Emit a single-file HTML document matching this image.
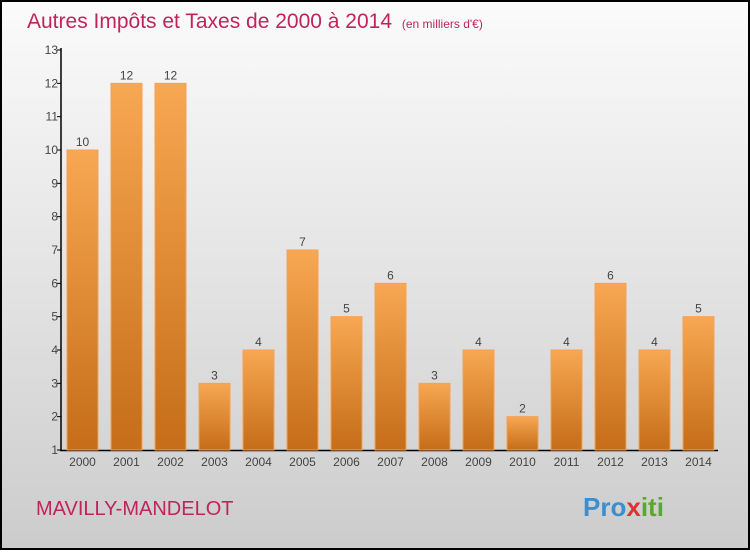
<!DOCTYPE html>
<html><head><meta charset="utf-8"><style>
body{margin:0;width:750px;height:550px;overflow:hidden;font-family:"Liberation Sans",sans-serif}
</style></head><body>
<svg id="c" width="750" height="550" xmlns="http://www.w3.org/2000/svg">
<defs>
<linearGradient id="bg" x1="0" y1="0" x2="0" y2="1"><stop offset="0" stop-color="#fbfbfb"/><stop offset="1" stop-color="#cccccc"/></linearGradient>
<linearGradient id="bar" x1="0" y1="0" x2="0" y2="1"><stop offset="0" stop-color="#f8a752"/><stop offset="1" stop-color="#c56d18"/></linearGradient>
</defs>
<rect x="1" y="1" width="748" height="548" fill="url(#bg)" stroke="#000" stroke-width="2"/>
<text x="27" y="28" font-size="21" fill="#c0245c">Autres Impôts et Taxes de 2000 à 2014 <tspan font-size="12" dx="4">(en milliers d'€)</tspan></text>
<text x="36" y="515" font-size="20" fill="#c0245c">MAVILLY-MANDELOT</text>
<text x="583" y="516" font-size="26" font-weight="bold" fill="#3a8fd0">Pro<tspan fill="#e03030">x</tspan><tspan fill="#5aaa2a">iti</tspan></text>
<g id="axes"></g><g id="bars"></g>
</svg>
<script>
const years=["2000","2001","2002","2003","2004","2005","2006","2007","2008","2009","2010","2011","2012","2013","2014"];
const values=[10,12,12,3,4,7,5,6,3,4,2,4,6,4,5];
const yTicks=[1,2,3,4,5,6,7,8,9,10,11,12,13];
const NS="http://www.w3.org/2000/svg";
function y(v){return 450-(v-1)*(400/12);}
function x(i){return 67+i*44;}
const ax=document.getElementById('axes'),bg=document.getElementById('bars');
function mk(t,a,p){const e=document.createElementNS(NS,t);for(const k in a)e.setAttribute(k,a[k]);p.appendChild(e);return e;}
let l=mk('line',{x1:61,y1:48,x2:61,y2:451,stroke:'#000','stroke-width':1.5},ax);


l=mk('line',{x1:60,y1:450.5,x2:718,y2:450.5,stroke:'#000','stroke-width':1.5},ax);


yTicks.forEach(v=>{
 const t=mk('line',{x1:57,x2:61,y1:y(v),y2:y(v),stroke:'#000'},ax);
 
 
 const tx=mk('text',{x:58,y:y(v)+4,'font-size':12,fill:'#444','text-anchor':'end'},ax);
 tx.textContent=v;
 
 
});
years.forEach((yr,i)=>{
 const v=values[i];
 const r=mk('rect',{x:x(i),y:y(v),width:31,height:450-y(v),fill:'url(#bar)',stroke:'#f2a257','stroke-width':1},bg);
 
 
 const vl=mk('text',{x:x(i)+15.5,y:y(v)-4,'font-size':12,fill:'#444','text-anchor':'middle'},bg);
 vl.textContent=v;
 
 
 const xl=mk('text',{x:x(i)+15.5,y:466,'font-size':12,fill:'#444','text-anchor':'middle'},bg);
 xl.textContent=yr;
 
 
});
</script>
</body></html>
